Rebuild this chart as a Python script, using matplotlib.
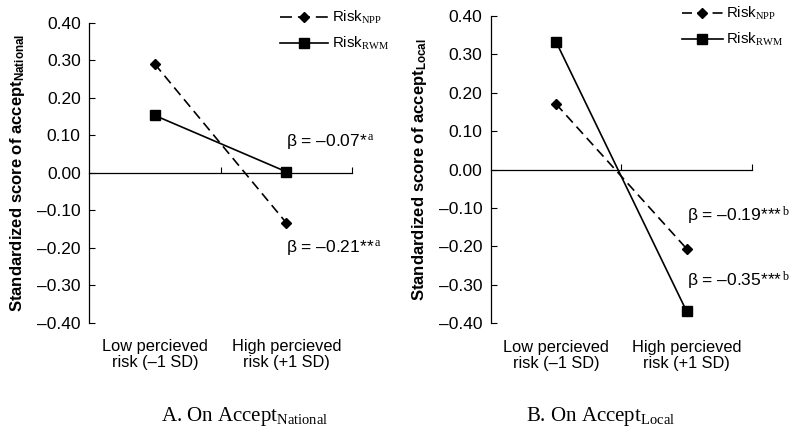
import matplotlib
matplotlib.use("Agg")
import matplotlib.pyplot as plt
from matplotlib.transforms import blended_transform_factory

plt.rcParams['font.family'] = ['Liberation Sans', 'DejaVu Sans']
plt.rcParams['mathtext.fontset'] = 'custom'
plt.rcParams['mathtext.rm'] = 'Liberation Serif'
plt.rcParams['mathtext.it'] = 'Liberation Serif:italic'
plt.rcParams['mathtext.bf'] = 'Liberation Sans:bold'
plt.rcParams['lines.scale_dashes'] = False

# data
categories = ["Low percieved\nrisk (\u20131 SD)", "High percieved\nrisk (+1 SD)"]
national_npp = [0.29, -0.133]
national_rwm = [0.153, 0.003]
local_npp = [0.171, -0.206]
local_rwm = [0.333, -0.369]
yticks = [0.4, 0.3, 0.2, 0.1, 0.0, -0.1, -0.2, -0.3, -0.4]

panels = [
    dict(npp=national_npp, rwm=national_rwm, sub="National", title="A. On Accept",
         betas=[("\u03b2 = \u20130.07*$^{\\,\\mathrm{a}}$", 0.083),
                ("\u03b2 = \u20130.21**$^{\\,\\mathrm{a}}$", -0.20)],
         rect=[89/792, 1-323/429, 263/792, 300.3/429],
         leg=(280/792, 1-9/429), hl=3.2, legdash=(8.6, 4.3),
         title_xy=(245/792, 8/429)),
    dict(npp=local_npp, rwm=local_rwm, sub="Local", title="B. On Accept",
         betas=[("\u03b2 = \u20130.19***$^{\\,\\mathrm{b}}$", -0.12),
                ("\u03b2 = \u20130.35***$^{\\,\\mathrm{b}}$", -0.289)],
         rect=[490.7/792, 1-323.3/429, 261.3/792, 307.3/429],
         leg=(682/792, 1-5/429), hl=2.7, legdash=(7.2, 3.8),
         title_xy=(601/792, 8/429)),
]

fig = plt.figure(figsize=(7.92, 4.29), dpi=100)

for p in panels:
    ax = fig.add_axes(p['rect'])
    x = range(len(categories))
    ax.plot(x, p['npp'], color='black', lw=1.2, ls=(0, (7, 4)), marker='D', ms=4.7,
            label="Risk$_{\\mathrm{NPP}}$")
    ax.plot(x, p['rwm'], color='black', lw=1.2, marker='s', ms=6.8,
            label="Risk$_{\\mathrm{RWM}}$")

    ax.set_xlim(-0.5, 1.5)
    ax.set_ylim(-0.4, 0.4)
    ax.spines['top'].set_visible(False)
    ax.spines['right'].set_visible(False)
    ax.spines['bottom'].set_position(('data', 0))
    for s in ['left', 'bottom']:
        ax.spines[s].set_linewidth(0.9)
    ax.set_xticks([0.5, 1.5])
    ax.set_xticklabels([])
    ax.set_yticks(yticks)
    ax.set_yticklabels([f"{v:.2f}".replace('-', '\u2013') for v in yticks])
    ax.tick_params(direction='in', length=4, width=0.8, labelsize=12.5, pad=6)

    trans = blended_transform_factory(ax.transData, ax.transAxes)
    for i, lab in enumerate(categories):
        ax.text(i, -0.105, lab, transform=trans, ha='center', va='center',
                fontsize=11.8, linespacing=1.1)

    for txt, y in p['betas']:
        ax.text(1.0, y, txt, ha='left', va='center', fontsize=12.5)

    ax.set_ylabel("Standardized score of accept$_{\\mathbf{" + p['sub'] + "}}$",
                  fontsize=12, fontweight='bold')
    ax.yaxis.set_label_coords(-0.235, 0.5)

    leg = fig.legend(handles=ax.get_lines(), loc='upper left', bbox_to_anchor=p['leg'],
                     frameon=False, fontsize=10.8, handlelength=p['hl'], handletextpad=0.25,
                     labelspacing=0.6, borderpad=0, borderaxespad=0)
    # legend key drawn as "— ◆ —"
    leg.get_lines()[0].set_linestyle((0, p['legdash']))

    fig.text(p['title_xy'][0], p['title_xy'][1],
             p['title'] + "$_{\\mathrm{" + p['sub'] + "}}$",
             ha='center', va='baseline', fontsize=15, family='Liberation Serif')

fig.savefig('out.png', dpi=100)
